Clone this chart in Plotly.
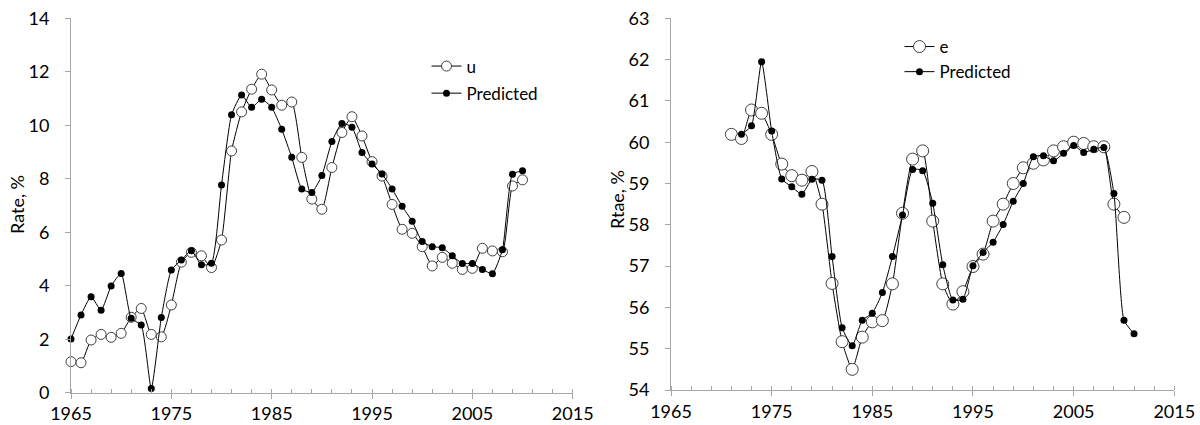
import plotly.graph_objects as go

# ---- Left chart data: unemployment rate u and predicted ----
years_u = list(range(1965, 2011))
u_actual = [1.16, 1.12, 1.97, 2.18, 2.07, 2.22, 2.82, 3.15, 2.18, 2.09,
            3.28, 4.88, 5.25, 5.12, 4.68, 5.71, 9.04, 10.50, 11.35, 11.91,
            11.32, 10.75, 10.87, 8.80, 7.24, 6.86, 8.42, 9.73, 10.32, 9.60,
            8.64, 8.10, 7.04, 6.11, 5.96, 5.46, 4.74, 5.06, 4.84, 4.61,
            4.65, 5.40, 5.30, 5.27, 7.73, 7.96]
u_pred = [2.01, 2.91, 3.59, 3.08, 3.99, 4.46, 2.78, 2.53, 0.16, 2.81,
          4.59, 4.96, 5.31, 4.78, 4.84, 7.77, 10.39, 11.13, 10.67, 10.97,
          10.67, 9.85, 8.80, 7.62, 7.49, 8.12, 9.39, 10.07, 9.93, 8.98,
          8.55, 8.18, 7.62, 6.97, 6.41, 5.65, 5.46, 5.42, 5.12, 4.83,
          4.83, 4.61, 4.45, 5.35, 8.17, 8.30]

# ---- Right chart data: employment/population ratio e and predicted ----
years_e = list(range(1971, 2011))
e_actual = [60.19, 60.09, 60.78, 60.70, 60.19, 59.47, 59.19, 59.08, 59.29, 58.50,
            56.58, 55.17, 54.50, 55.28, 55.65, 55.68, 56.57, 58.28, 59.59, 59.79,
            58.09, 56.57, 56.08, 56.38, 56.99, 57.29, 58.09, 58.50, 59.00, 59.38,
            59.49, 59.57, 59.79, 59.89, 60.00, 59.97, 59.89, 59.89, 58.50, 58.18]
years_e_pred = list(range(1972, 2012))
e_pred = [60.19, 60.40, 61.95, 60.27, 59.11, 58.92, 58.74, 59.10, 59.08, 57.23,
          55.51, 55.07, 55.69, 55.86, 56.36, 57.23, 58.24, 59.34, 59.31, 58.52,
          57.03, 56.18, 56.20, 57.01, 57.33, 57.58, 58.01, 58.57, 59.00, 59.65,
          59.67, 59.55, 59.73, 59.92, 59.75, 59.83, 59.87, 58.76, 55.69, 55.36]

x_ticks = [1965, 1975, 1985, 1995, 2005, 2015]
y_ticks_left = [0, 2, 4, 6, 8, 10, 12, 14]
y_ticks_right = [54, 55, 56, 57, 58, 59, 60, 61, 62, 63]

FONT = "Lato"
W, H = 1200, 425
SMOOTH = 0.5

fig = go.Figure()

def open_trace(x, y, name, xa, ya, size, legend):
    return go.Scatter(x=x, y=y, name=name, xaxis=xa, yaxis=ya, mode="lines+markers",
                      line=dict(color="#000000", width=1, shape="spline", smoothing=SMOOTH),
                      marker=dict(symbol="circle", size=size, color="#ffffff",
                                  line=dict(color="#404040", width=1)),
                      cliponaxis=False, legend=legend, legendgroup=name + legend)

def filled_trace(x, y, name, xa, ya, legend):
    return go.Scatter(x=x, y=y, name=name, xaxis=xa, yaxis=ya, mode="lines+markers",
                      line=dict(color="#000000", width=1, shape="spline", smoothing=SMOOTH),
                      marker=dict(symbol="circle", size=7, color="#000000",
                                  line=dict(color="#000000", width=0)),
                      cliponaxis=False, legend=legend, legendgroup=name + legend)

fig.add_trace(open_trace(years_u, u_actual, "u", "x", "y", 10, "legend"))
fig.add_trace(filled_trace(years_u, u_pred, "Predicted", "x", "y", "legend"))
fig.add_trace(open_trace(years_e, e_actual, "e", "x2", "y2", 12, "legend2"))
fig.add_trace(filled_trace(years_e_pred, e_pred, "Predicted", "x2", "y2", "legend2"))

axis_common = dict(showgrid=False, zeroline=False, showline=True, linecolor="#a6a6a6",
                   linewidth=1, tickfont=dict(family=FONT, size=18, color="#000000"),
                   tickcolor="#a6a6a6", fixedrange=True, automargin=False)

def xaxis(domain, anchor):
    return dict(axis_common, domain=domain, anchor=anchor, range=[1965, 2015],
                tickmode="array", tickvals=x_ticks, ticks="outside", ticklen=5,
                ticklabelstandoff=0,
                minor=dict(tickmode="linear", tick0=1965, dtick=2, ticks="inside",
                           ticklen=4, tickcolor="#a6a6a6", showgrid=False))

def yaxis(domain, anchor, rng, vals):
    return dict(axis_common, domain=domain, anchor=anchor, range=rng,
                tickmode="array", tickvals=vals, ticks="outside", ticklen=5,
                ticklabelstandoff=12)

fig.update_layout(
    width=W, height=H, margin=dict(l=0, r=0, t=0, b=0, autoexpand=False),
    paper_bgcolor="#ffffff", plot_bgcolor="#ffffff",
    font=dict(family=FONT, size=18, color="#000000"),
    xaxis=xaxis([71 / W, 572.7 / W], "y"),
    yaxis=yaxis([(H - 392.7) / H, (H - 18.3) / H], "x", [0, 14], y_ticks_left),
    xaxis2=xaxis([671 / W, 1174.3 / W], "y2"),
    yaxis2=yaxis([(H - 390) / H, (H - 18.3) / H], "x2", [54, 63], y_ticks_right),
    legend=dict(x=426.5 / W, y=1 - 48.5 / H, xanchor="left", yanchor="top",
                bgcolor="rgba(0,0,0,0)", font=dict(family=FONT, size=17),
                itemwidth=30, tracegroupgap=2, traceorder="grouped"),
    legend2=dict(x=899.5 / W, y=1 - 29 / H, xanchor="left", yanchor="top",
                 bgcolor="rgba(0,0,0,0)", font=dict(family=FONT, size=17),
                 itemwidth=30, tracegroupgap=0, traceorder="grouped"),
    showlegend=True,
    annotations=[
        dict(text="Rate, %", x=17 / W, y=(H - 205) / H, xref="paper", yref="paper",
             xanchor="center", yanchor="middle",
             textangle=-90, showarrow=False, font=dict(family=FONT, size=18)),
        dict(text="Rtae, %", x=617 / W, y=(H - 200) / H, xref="paper", yref="paper",
             xanchor="center", yanchor="middle",
             textangle=-90, showarrow=False, font=dict(family=FONT, size=18)),
    ],
)

fig.write_html("out.html")
